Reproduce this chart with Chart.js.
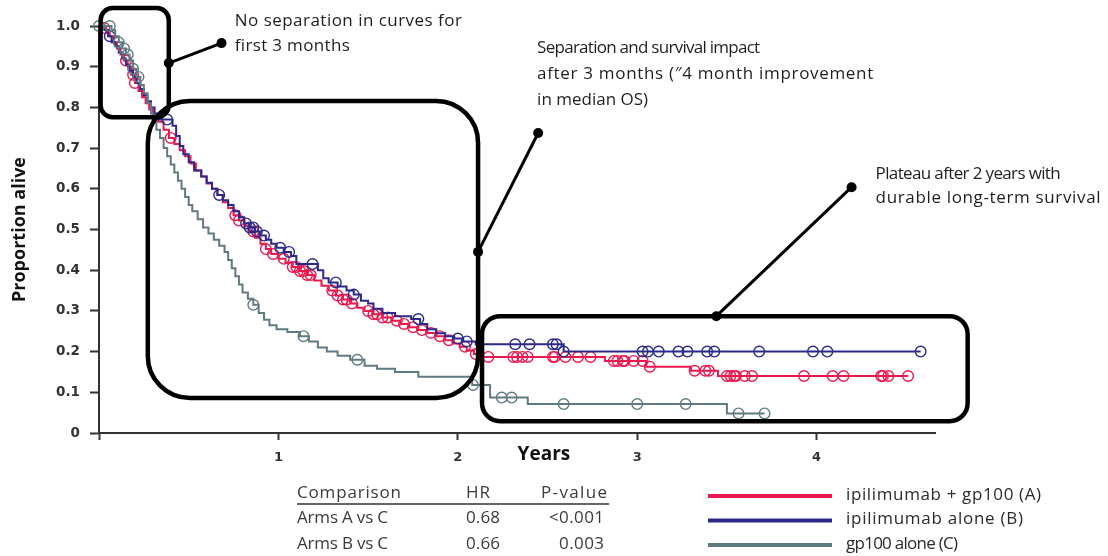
<!DOCTYPE html>
<html><head><meta charset="utf-8">
<script src="https://cdn.jsdelivr.net/npm/chart.js@4.4.1/dist/chart.umd.min.js"></script>
<style>html,body{margin:0;padding:0;background:#fff;}#wrap{width:1108px;height:556px;position:relative;}</style>
</head><body><div id="wrap"><canvas id="c" width="1108" height="556"></canvas></div>
<script>
// ---------- DATA ----------
const seriesNames = ['ipilimumab + gp100 (A)', 'ipilimumab alone (B)', 'gp100 alone (C)'];
const xTickValues = [0, 1, 2, 3, 4];
const yTickStep = 0.1;

// Arm A: ipilimumab + gp100 (event times in years, survival after the step)
const aTime = [0,0.02,0.04,0.06,0.08,0.10,0.12,0.14,0.16,0.18,0.20,0.22,0.24,0.26,0.28,0.30,0.33,0.36,0.39,0.42,0.45,0.48,0.51,0.54,0.57,0.60,0.63,0.66,0.69,0.72,0.75,0.78,0.81,0.84,0.87,0.90,0.93,0.96,1.00,1.04,1.08,1.12,1.16,1.20,1.24,1.28,1.32,1.36,1.40,1.44,1.48,1.53,1.58,1.63,1.68,1.73,1.78,1.83,1.88,1.93,1.97,2.01,2.05,2.09,2.12,2.82,3.05,3.30,3.45,4.51];
const aSurv = [1.0,0.995,0.985,0.975,0.96,0.945,0.93,0.915,0.90,0.88,0.86,0.84,0.825,0.81,0.795,0.78,0.765,0.745,0.725,0.71,0.695,0.68,0.662,0.645,0.63,0.613,0.60,0.585,0.567,0.553,0.535,0.522,0.508,0.495,0.48,0.465,0.452,0.44,0.428,0.418,0.408,0.398,0.388,0.375,0.362,0.35,0.338,0.328,0.318,0.308,0.300,0.292,0.284,0.276,0.268,0.260,0.253,0.246,0.238,0.228,0.220,0.212,0.203,0.194,0.187,0.177,0.163,0.153,0.140,0.140];
const aCensor = [0.03,0.15,0.19,0.20,0.40,0.76,0.78,0.86,0.93,0.97,1.03,1.08,1.10,1.12,1.14,1.16,1.18,1.30,1.33,1.36,1.38,1.41,1.50,1.53,1.55,1.58,1.61,1.66,1.70,1.75,1.80,1.85,1.90,1.95,2.04,2.10,2.17,2.31,2.33,2.36,2.39,2.53,2.54,2.60,2.67,2.74,2.87,2.89,2.92,2.93,2.98,3.03,3.07,3.32,3.38,3.40,3.50,3.52,3.54,3.55,3.60,3.64,3.93,4.09,4.15,4.36,4.37,4.40,4.51];

// Arm B: ipilimumab alone
const bTime = [0,0.03,0.05,0.07,0.09,0.11,0.13,0.15,0.17,0.19,0.21,0.23,0.25,0.27,0.29,0.31,0.33,0.41,0.43,0.45,0.47,0.50,0.53,0.57,0.60,0.63,0.66,0.69,0.72,0.75,0.78,0.81,0.84,0.87,0.90,0.93,0.96,0.99,1.03,1.07,1.10,1.22,1.25,1.28,1.33,1.38,1.42,1.46,1.50,1.53,1.58,1.65,1.74,1.79,1.83,1.88,1.93,1.98,2.03,2.10,2.59,4.58];
const bSurv = [1.0,0.99,0.975,0.96,0.95,0.935,0.92,0.905,0.89,0.875,0.86,0.845,0.83,0.815,0.80,0.785,0.77,0.755,0.73,0.705,0.685,0.665,0.645,0.63,0.615,0.60,0.585,0.572,0.56,0.545,0.53,0.515,0.505,0.495,0.485,0.475,0.465,0.455,0.445,0.435,0.415,0.40,0.38,0.37,0.36,0.35,0.34,0.325,0.318,0.305,0.295,0.287,0.28,0.268,0.255,0.245,0.238,0.232,0.225,0.218,0.20,0.20];
const bCensor = [0.06,0.38,0.67,0.82,0.84,0.86,0.88,0.92,1.01,1.06,1.19,1.32,1.42,1.78,2.00,2.05,2.32,2.40,2.53,2.55,2.59,3.03,3.06,3.12,3.23,3.28,3.39,3.43,3.68,3.98,4.06,4.58];

// Arm C: gp100 alone
const cTime = [0,0.07,0.09,0.11,0.13,0.15,0.17,0.19,0.21,0.23,0.25,0.27,0.29,0.30,0.32,0.34,0.36,0.38,0.40,0.42,0.44,0.46,0.48,0.50,0.52,0.55,0.58,0.61,0.64,0.67,0.70,0.72,0.74,0.76,0.78,0.80,0.83,0.86,0.89,0.92,0.95,0.99,1.05,1.12,1.17,1.22,1.27,1.33,1.40,1.48,1.55,1.65,1.78,2.08,2.18,2.39,3.50,3.71];
const cSurv = [1.0,0.99,0.975,0.96,0.945,0.93,0.915,0.895,0.875,0.855,0.835,0.81,0.785,0.765,0.745,0.725,0.70,0.68,0.66,0.64,0.62,0.60,0.58,0.56,0.545,0.525,0.505,0.49,0.475,0.46,0.445,0.425,0.405,0.385,0.365,0.345,0.33,0.315,0.295,0.278,0.265,0.255,0.248,0.238,0.225,0.21,0.20,0.19,0.18,0.165,0.158,0.15,0.138,0.118,0.087,0.071,0.048,0.048];
const cCensor = [0,0.06,0.11,0.14,0.16,0.19,0.22,0.86,1.14,1.44,2.085,2.245,2.30,2.59,3.00,3.27,3.565,3.71];

// Comparison table
const tableHeader = ['Comparison', 'HR', 'P-value'];
const tableRows = [['Arms A vs C', '0.68', '<0.001'], ['Arms B vs C', '0.66', '0.003']];

// Callouts
const calloutTexts = [
  ['No separation in curves for', 'first 3 months'],
  ['Separation and survival impact', 'after 3 months (\u20334 month improvement', 'in median OS)'],
  ['Plateau after 2 years with', 'durable long-term survival']
];
</script>
<script>
// ---------- STYLE / LAYOUT ----------
const colors = ['#e8194f', '#2b2a8a', '#5f7b82'];
const FONT = "'Open Sans', 'Liberation Sans', sans-serif";
const TXT = '17px ' + FONT;
// callout geometry in data units (years, proportion)
const boxes = [
  {x0: 0.009, x1: 0.389, y0: 0.776, y1: 1.044, r: 12},
  {x0: 0.272, x1: 2.113, y0: 0.086, y1: 0.816, r: 42},
  {x0: 2.135, x1: 4.842, y0: 0.029, y1: 0.287, r: 18}
];
const links = [
  {from: [0.389, 0.909], to: [0.683, 0.958]},
  {from: [2.113, 0.445], to: [2.448, 0.737]},
  {from: [3.441, 0.287], to: [4.195, 0.604]}
];
const textPos = [
  {x: 0.757, y: 1.012, lh: 25},
  {x: 2.442, y: 0.946, lh: 26},
  {x: 4.329, y: 0.636, lh: 24}
];
// rendered widths of text lines in the picture (px)
const calloutWidths = [[227, 115], [223, 336, 111], [185, 225]];
const legendWidths = [195, 177, 112];
const tableHeaderWidths = [104, 24, 66];
const tableRowWidths = [[91, 34, 55], [91, 34, 45]];

function stepAt(times, surv, t) {
  let v = surv[0];
  for (let i = 0; i < times.length; i++) { if (t >= times[i] - 1e-9) v = surv[i]; }
  return v;
}
function curve(times, surv) { return times.map((t, i) => ({x: t, y: surv[i]})); }
function marks(times, surv, cens) { return cens.map(t => ({x: t, y: stepAt(times, surv, t)})); }

const arms = [[aTime, aSurv, aCensor], [bTime, bSurv, bCensor], [cTime, cSurv, cCensor]];
const datasets = [];
[2, 1, 0].forEach(i => {
  const [t, s, c] = arms[i];
  datasets.push({label: seriesNames[i], type: 'line', data: curve(t, s), stepped: true,
    borderColor: colors[i], borderWidth: 2, pointRadius: 0, fill: false, clip: false});
  datasets.push({label: seriesNames[i] + ' censored', type: 'scatter', data: marks(t, s, c),
    showLine: false, pointStyle: 'circle', pointRadius: 5.3, pointHoverRadius: 5.3,
    pointBorderWidth: 1.4, borderColor: colors[i], backgroundColor: 'rgba(0,0,0,0)', clip: false});
});

function rrect(ctx, x, y, w, h, r) {
  ctx.beginPath();
  ctx.moveTo(x + r, y);
  ctx.lineTo(x + w - r, y); ctx.arcTo(x + w, y, x + w, y + r, r);
  ctx.lineTo(x + w, y + h - r); ctx.arcTo(x + w, y + h, x + w - r, y + h, r);
  ctx.lineTo(x + r, y + h); ctx.arcTo(x, y + h, x, y + h - r, r);
  ctx.lineTo(x, y + r); ctx.arcTo(x, y, x + r, y, r);
  ctx.closePath();
}
function fitText(ctx, text, x, y, w, align) {
  ctx.letterSpacing = '0px';
  ctx.textAlign = 'left';
  const m = ctx.measureText(text).width;
  const n = Array.from(text).length;
  const ls = n > 1 ? (w - m) / (n - 1) : 0;
  ctx.letterSpacing = ls.toFixed(2) + 'px';
  ctx.fillText(text, align === 'right' ? x - w : x, y);
  ctx.letterSpacing = '0px';
}

const overlay = {
  id: 'overlay',
  afterDraw(chart) {
    const ctx = chart.ctx, xs = chart.scales.x, ys = chart.scales.y;
    const px = v => xs.getPixelForValue(v), py = v => ys.getPixelForValue(v);
    ctx.save();
    ctx.strokeStyle = '#000'; ctx.lineWidth = 4.5; ctx.lineJoin = 'round';
    boxes.forEach(b => {
      const x = px(b.x0), y = py(b.y1), w = px(b.x1) - x, h = py(b.y0) - y;
      rrect(ctx, x, y, w, h, b.r); ctx.stroke();
    });
    ctx.lineWidth = 3;
    links.forEach(l => {
      const x1 = px(l.from[0]), y1 = py(l.from[1]), x2 = px(l.to[0]), y2 = py(l.to[1]);
      ctx.beginPath(); ctx.moveTo(x1, y1); ctx.lineTo(x2, y2); ctx.stroke();
      [[x1, y1], [x2, y2]].forEach(([a, b]) => { ctx.beginPath(); ctx.arc(a, b, 5, 0, Math.PI * 2); ctx.fillStyle = '#000'; ctx.fill(); });
    });
    ctx.fillStyle = '#1e1e1e'; ctx.font = TXT; ctx.textBaseline = 'middle';
    calloutTexts.forEach((lines, i) => {
      const p = textPos[i];
      lines.forEach((ln, k) => fitText(ctx, ln, px(p.x), py(p.y) + k * p.lh, calloutWidths[i][k]));
    });
    ctx.font = 'bold 19px ' + FONT; ctx.textAlign = 'center'; ctx.fillStyle = '#111';
    ctx.fillText('Years', px(2.48), chart.chartArea.bottom + 22);
    // table
    ctx.font = TXT; ctx.fillStyle = '#3a3a3a'; ctx.textBaseline = 'middle';
    const colX = [297, 466, 607], rowY0 = 493, rowH = 25.5;
    fitText(ctx, tableHeader[0], colX[0], rowY0, tableHeaderWidths[0]);
    fitText(ctx, tableHeader[1], colX[1], rowY0, tableHeaderWidths[1]);
    fitText(ctx, tableHeader[2], colX[2], rowY0, tableHeaderWidths[2], 'right');
    ctx.strokeStyle = '#333'; ctx.lineWidth = 1.3;
    ctx.beginPath(); ctx.moveTo(colX[0], rowY0 + 11); ctx.lineTo(colX[2] + 2, rowY0 + 11); ctx.stroke();
    tableRows.forEach((r, i) => {
      const y = rowY0 + (i + 1) * rowH;
      fitText(ctx, r[0], colX[0], y, tableRowWidths[i][0]);
      fitText(ctx, r[1], colX[1], y, tableRowWidths[i][1]);
      fitText(ctx, r[2], colX[2] - 3, y, tableRowWidths[i][2], 'right');
    });
    // legend
    const legY0 = 496, legH = 24.5;
    seriesNames.forEach((n, i) => {
      const y = legY0 + i * legH;
      ctx.strokeStyle = colors[i]; ctx.lineWidth = 4;
      ctx.beginPath(); ctx.moveTo(708, y); ctx.lineTo(832, y); ctx.stroke();
      ctx.fillStyle = '#2a2a2a'; ctx.font = TXT;
      fitText(ctx, n, 846, y - 1, legendWidths[i]);
    });
    ctx.restore();
  }
};

new Chart(document.getElementById('c'), {
  data: {datasets},
  plugins: [overlay],
  options: {
    responsive: false, animation: false, devicePixelRatio: 1,
    layout: {padding: {left: 0, top: 26, right: 173, bottom: 93}},
    plugins: {legend: {display: false}, tooltip: {enabled: false}},
    scales: {
      x: {type: 'linear', min: 0, max: 4.66,
        afterBuildTicks: s => { s.ticks = xTickValues.map(v => ({value: v})); },
        afterFit: s => { s.height = 30; },
        ticks: {callback: v => (v === 0 ? '' : String(v)), padding: 10, color: '#333',
          font: {family: 'DejaVu Sans', size: 13, weight: 'bold'}, maxRotation: 0},
        grid: {drawOnChartArea: false, drawTicks: true, tickLength: 7, tickWidth: 2, tickColor: '#333'},
        border: {display: true, color: '#333', width: 2}
      },
      y: {type: 'linear', min: 0, max: 1.0,
        afterFit: s => { s.width = 99; },
        ticks: {stepSize: yTickStep, padding: 10, color: '#333',
          callback: v => (Math.abs(v) < 1e-9 ? '0' : v.toFixed(1)),
          font: {family: 'DejaVu Sans', size: 13.5, weight: 'bold'}},
        grid: {drawOnChartArea: false, drawTicks: true, tickLength: 9, tickWidth: 2, tickColor: '#333'},
        border: {display: true, color: '#333', width: 2},
        title: {display: true, text: 'Proportion alive', color: '#111', padding: {top: 9, bottom: 0},
          font: {family: FONT, size: 18, weight: 'bold'}}
      }
    }
  }
});
</script>
</body></html>
